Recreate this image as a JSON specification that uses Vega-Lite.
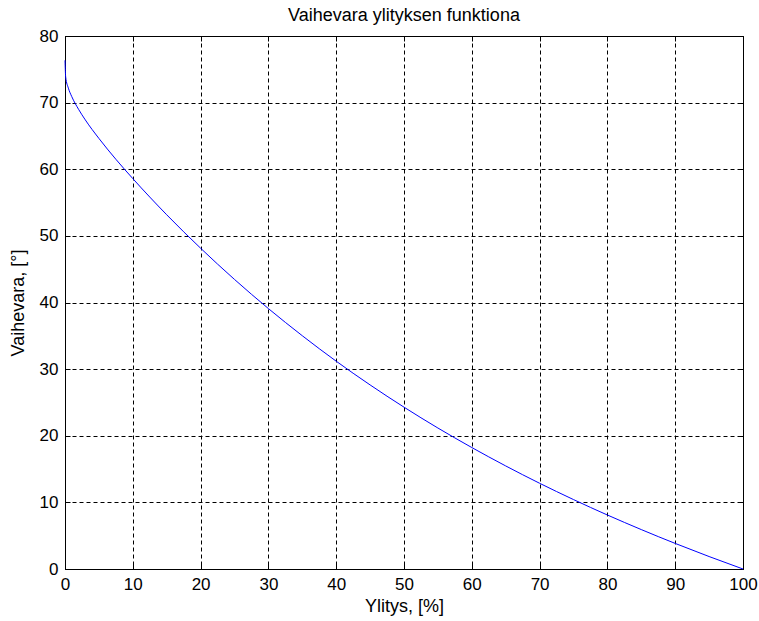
{
  "$schema": "https://vega.github.io/schema/vega-lite/v6.json",
  "width": 678,
  "height": 533,
  "autosize": {"type": "none"},
  "padding": {"left": 65, "top": 36, "right": 16, "bottom": 52},
  "background": "white",
  "title": {
    "text": "Vaihevara ylityksen funktiona",
    "font": "Liberation Sans",
    "fontSize": 18,
    "fontWeight": "normal",
    "color": "#000",
    "offset": 2
  },
  "config": {
    "view": {"stroke": "#000", "strokeWidth": 1},
    "axis": {
      "labelFont": "Liberation Sans",
      "labelFontSize": 17,
      "labelColor": "#000",
      "titleFont": "Liberation Sans",
      "titleFontSize": 18,
      "titleFontWeight": "normal",
      "titleColor": "#000",
      "domainColor": "#000",
      "tickColor": "#000",
      "gridColor": "#000",
      "gridOpacity": 1,
      "gridDash": [4, 3],
      "gridWidth": 1
    }
  },
  "data": {
    "values": [
      {"ylitys": 0, "vaihevara": 76.35},
      {"ylitys": 0.1, "vaihevara": 73.84},
      {"ylitys": 0.5, "vaihevara": 72.17},
      {"ylitys": 1, "vaihevara": 70.9},
      {"ylitys": 2, "vaihevara": 69.0},
      {"ylitys": 3, "vaihevara": 67.4},
      {"ylitys": 5, "vaihevara": 64.63},
      {"ylitys": 7.5, "vaihevara": 61.5},
      {"ylitys": 10, "vaihevara": 58.6},
      {"ylitys": 15, "vaihevara": 53.17},
      {"ylitys": 20, "vaihevara": 48.15},
      {"ylitys": 25, "vaihevara": 43.46},
      {"ylitys": 30, "vaihevara": 39.09},
      {"ylitys": 35, "vaihevara": 35.01},
      {"ylitys": 40, "vaihevara": 31.19},
      {"ylitys": 45, "vaihevara": 27.63},
      {"ylitys": 50, "vaihevara": 24.29},
      {"ylitys": 55, "vaihevara": 21.16},
      {"ylitys": 60, "vaihevara": 18.23},
      {"ylitys": 65, "vaihevara": 15.47},
      {"ylitys": 70, "vaihevara": 12.87},
      {"ylitys": 75, "vaihevara": 10.42},
      {"ylitys": 80, "vaihevara": 8.105},
      {"ylitys": 85, "vaihevara": 5.915},
      {"ylitys": 90, "vaihevara": 3.84},
      {"ylitys": 95, "vaihevara": 1.87},
      {"ylitys": 100, "vaihevara": 0}
    ]
  },
  "layer": [
    {
      "mark": {"type": "line", "color": "#0000ff", "strokeWidth": 1, "interpolate": "monotone"},
      "encoding": {
        "x": {
          "field": "ylitys", "type": "quantitative",
          "scale": {"domain": [0, 100], "nice": false, "zero": false},
          "axis": {"title": "Ylitys, [%]", "values": [0,10,20,30,40,50,60,70,80,90,100], "tickSize": -5, "labelPadding": 12, "titlePadding": 5, "grid": true, "labelFlush": false, "labelOverlap": false}
        },
        "y": {
          "field": "vaihevara", "type": "quantitative",
          "scale": {"domain": [0, 80], "nice": false, "zero": false},
          "axis": {"title": "Vaihevara, [°]", "values": [0,10,20,30,40,50,60,70,80], "tickSize": -5, "labelPadding": 12, "titlePadding": 12, "grid": true, "labelFlush": false, "labelOverlap": false}
        }
      }
    },
    {
      "mark": {"type": "line", "opacity": 0},
      "encoding": {
        "x": {
          "field": "ylitys", "type": "quantitative",
          "scale": {"domain": [0, 100], "nice": false, "zero": false},
          "axis": {"orient": "top", "title": null, "labels": false, "grid": false, "domain": false, "tickSize": -5, "values": [0,10,20,30,40,50,60,70,80,90,100]}
        },
        "y": {
          "field": "vaihevara", "type": "quantitative",
          "scale": {"domain": [0, 80], "nice": false, "zero": false},
          "axis": {"orient": "right", "title": null, "labels": false, "grid": false, "domain": false, "tickSize": -5, "values": [0,10,20,30,40,50,60,70,80]}
        }
      }
    }
  ],
  "resolve": {"axis": {"x": "independent", "y": "independent"}}
}
